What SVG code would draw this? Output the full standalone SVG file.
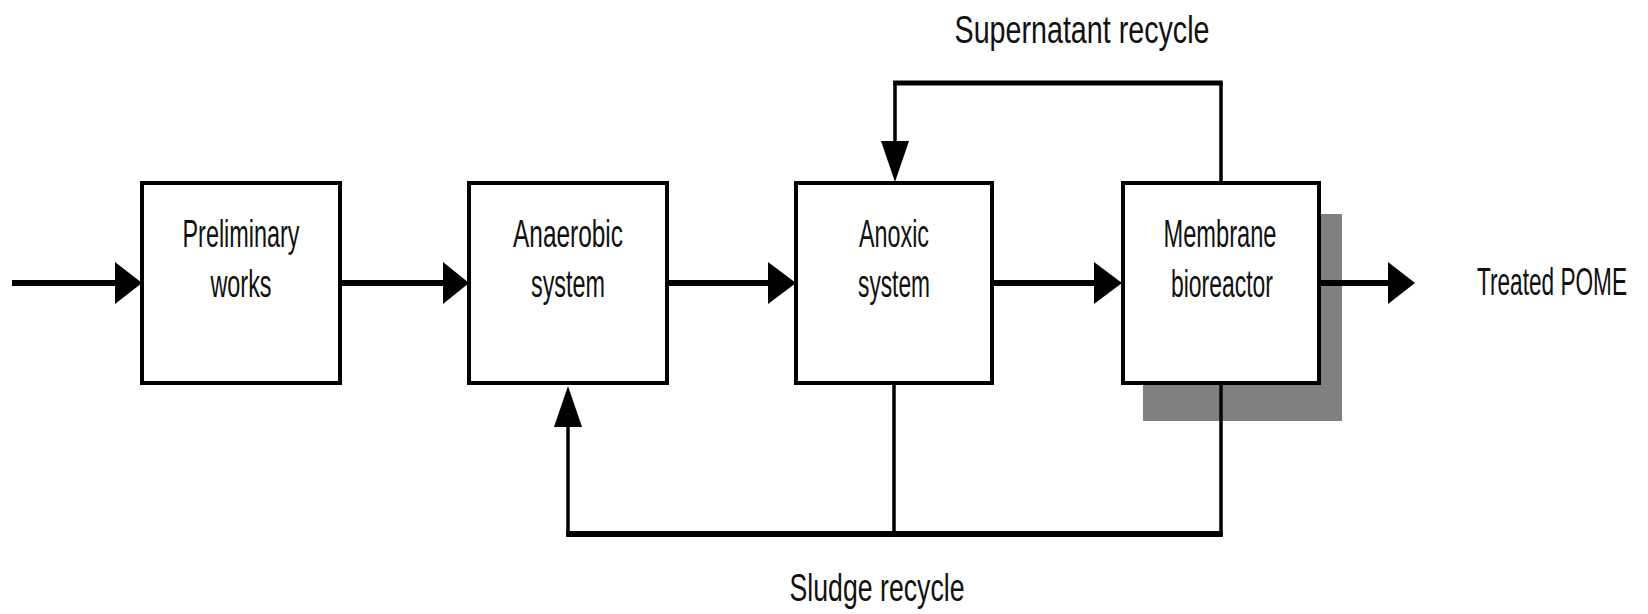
<svg xmlns="http://www.w3.org/2000/svg" width="1648" height="614" viewBox="0 0 1648 614">
<style>
.box{fill:#fff;stroke:#000;stroke-width:4}
.h{stroke:#000;stroke-width:6;fill:none}
.v{stroke:#000;stroke-width:3.5;fill:none}
.head{fill:#000}
text{font-family:"Liberation Sans",Arial,sans-serif;font-size:24px;fill:#111;text-anchor:middle}
</style>
<rect width="1648" height="614" fill="#fff"/>
<g id="connectors">
  <line class="h" x1="12" y1="283" x2="117" y2="283"/>
  <polygon class="head" points="115,262 142,283 115,304"/>
  <line class="h" x1="340" y1="283" x2="445" y2="283"/>
  <polygon class="head" points="443,262 469,283 443,304"/>
  <line class="h" x1="667" y1="283" x2="770" y2="283"/>
  <polygon class="head" points="768,262 796,283 768,304"/>
  <line class="h" x1="992" y1="283" x2="1096" y2="283"/>
  <polygon class="head" points="1094,262 1122,283 1094,304"/>
  <line class="v" x1="1221" y1="181" x2="1221" y2="83"/>
  <line stroke="#000" stroke-width="5" x1="1222.75" y1="83" x2="893.25" y2="83"/>
  <line class="v" x1="895" y1="81" x2="895" y2="143"/>
  <polygon class="head" points="881,141 909,141 895,182"/>
  <line class="v" x1="894" y1="385" x2="894" y2="534"/>
  <line class="h" x1="566.25" y1="534" x2="1222.75" y2="534"/>
  <line class="v" x1="568" y1="537" x2="568" y2="425"/>
  <polygon class="head" points="554,427 582,427 568,386"/>
</g>
<g id="node-preliminary">
  <rect class="box" x="142" y="183" width="198" height="200"/>
  <text transform="translate(241,247) scale(1,1.6)" textLength="117" lengthAdjust="spacingAndGlyphs">Preliminary</text>
  <text transform="translate(241,297) scale(1,1.6)" textLength="61" lengthAdjust="spacingAndGlyphs">works</text>
</g>
<g id="node-anaerobic">
  <rect class="box" x="469" y="183" width="198" height="200"/>
  <text transform="translate(568,247) scale(1,1.6)" textLength="110" lengthAdjust="spacingAndGlyphs">Anaerobic</text>
  <text transform="translate(568,297) scale(1,1.6)" textLength="74" lengthAdjust="spacingAndGlyphs">system</text>
</g>
<g id="node-anoxic">
  <rect class="box" x="796" y="183" width="196" height="200"/>
  <text transform="translate(894,247) scale(1,1.6)" textLength="70" lengthAdjust="spacingAndGlyphs">Anoxic</text>
  <text transform="translate(894,297) scale(1,1.6)" textLength="72" lengthAdjust="spacingAndGlyphs">system</text>
</g>
<g id="node-membrane">
  <rect x="1143" y="214" width="199" height="207" fill="#808080"/>
  <line class="v" x1="1221" y1="385" x2="1221" y2="535.5"/>
  <line class="h" x1="1319" y1="283" x2="1390" y2="283"/>
  <polygon class="head" points="1388,262 1415,283 1388,304"/>
  <rect class="box" x="1123" y="183" width="196" height="200"/>
  <text transform="translate(1220,247) scale(1,1.6)" textLength="113" lengthAdjust="spacingAndGlyphs">Membrane</text>
  <text transform="translate(1222,297) scale(1,1.6)" textLength="102" lengthAdjust="spacingAndGlyphs">bioreactor</text>
</g>
<g id="labels">
  <text transform="translate(1552,295) scale(1,1.6)" textLength="150" lengthAdjust="spacingAndGlyphs">Treated POME</text>
  <text transform="translate(1082,43) scale(1,1.6)" textLength="255" lengthAdjust="spacingAndGlyphs">Supernatant recycle</text>
  <text transform="translate(877,601) scale(1,1.6)" textLength="175" lengthAdjust="spacingAndGlyphs">Sludge recycle</text>
</g>
</svg>
